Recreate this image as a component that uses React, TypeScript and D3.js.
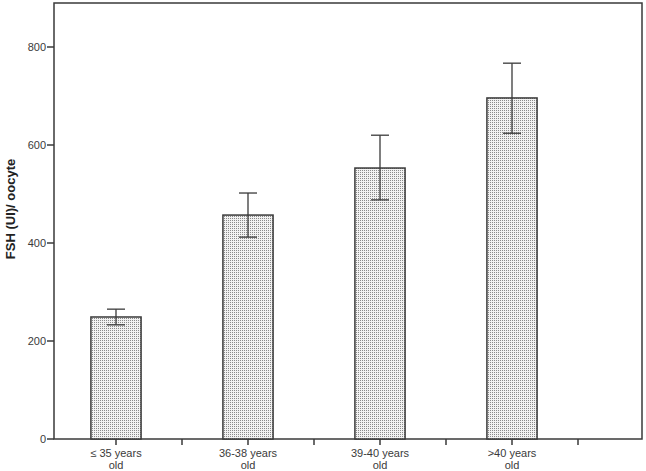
import * as d3 from "d3";
import { useEffect, useRef } from "react";

const categories = ["≤ 35 years|old", "36-38 years|old", "39-40 years|old", ">40 years|old"];
const means = [249, 457, 553, 696];
const errLow = [233, 412, 488, 624];
const errHigh = [265, 502, 620, 767];
const yTicks = [0, 200, 400, 600, 800];
const yLabel = "FSH (UI)/ oocyte";

export default function App() {
  const ref = useRef<SVGSVGElement | null>(null);

  useEffect(() => {
    if (!ref.current) return;
    const width = 646;
    const height = 471;
    const left = 54;
    const right = 642;
    const top = 3;
    const bottom = 439;
    const ink = "#3a3a3a";
    const font = "'Liberation Sans', Arial, sans-serif";

    const svg = d3.select(ref.current);
    svg.selectAll("*").remove();

    // dotted fill like SPSS
    const pat = svg
      .append("defs")
      .append("pattern")
      .attr("id", "dots")
      .attr("width", 2)
      .attr("height", 2)
      .attr("patternUnits", "userSpaceOnUse");
    pat.append("rect").attr("width", 2).attr("height", 2).attr("fill", "#f2f2f2");
    pat.append("rect").attr("width", 1).attr("height", 1).attr("fill", "#8a8a8a");

    const x = d3
      .scaleBand()
      .domain(categories)
      .range([50, 578])
      .paddingInner(0.62)
      .paddingOuter(0.31);

    const y = d3.scaleLinear().domain([0, 800]).range([bottom, bottom - 392]);

    // frame
    svg
      .append("rect")
      .attr("x", left)
      .attr("y", top)
      .attr("width", right - left)
      .attr("height", bottom - top)
      .attr("fill", "none")
      .attr("stroke", ink)
      .attr("stroke-width", 1.5);

    // bars
    svg
      .append("g")
      .selectAll("rect")
      .data(means)
      .join("rect")
      .attr("x", (_, i) => x(categories[i])!)
      .attr("y", (d) => y(d))
      .attr("width", x.bandwidth())
      .attr("height", (d) => y(0) - y(d))
      .attr("fill", "url(#dots)")
      .attr("stroke", ink)
      .attr("stroke-width", 1.5);

    // error bars
    const eb = svg.append("g").attr("stroke", ink).attr("stroke-width", 1.3);
    categories.forEach((c, i) => {
      const cx = x(c)! + x.bandwidth() / 2;
      eb.append("line").attr("x1", cx).attr("x2", cx).attr("y1", y(errLow[i])).attr("y2", y(errHigh[i]));
      [errLow[i], errHigh[i]].forEach((v) => {
        eb.append("line").attr("x1", cx - 9).attr("x2", cx + 9).attr("y1", y(v)).attr("y2", y(v));
      });
    });

    // y axis
    const ya = svg.append("g").attr("font-family", font).attr("font-size", 11).attr("fill", ink);
    yTicks.forEach((t) => {
      ya.append("line")
        .attr("x1", left - 7)
        .attr("x2", left)
        .attr("y1", y(t))
        .attr("y2", y(t))
        .attr("stroke", ink)
        .attr("stroke-width", 1.5);
      ya.append("text")
        .attr("x", left - 8)
        .attr("y", y(t))
        .attr("dy", "0.35em")
        .attr("text-anchor", "end")
        .text(t);
    });

    // x axis ticks: centers and band boundaries
    const xa = svg.append("g").attr("stroke", ink).attr("stroke-width", 1.5);
    categories.forEach((c) => {
      const cx = x(c)! + x.bandwidth() / 2;
      const edge = x(c)! + x.bandwidth() + (x.step() - x.bandwidth()) / 2;
      [cx, edge].forEach((px) => {
        xa.append("line").attr("x1", px).attr("x2", px).attr("y1", bottom).attr("y2", bottom + 6);
      });
    });

    const xl = svg
      .append("g")
      .attr("font-family", font)
      .attr("font-size", 11)
      .attr("fill", ink)
      .attr("text-anchor", "middle");
    categories.forEach((c) => {
      const cx = x(c)! + x.bandwidth() / 2;
      c.split("|").forEach((line, j) => {
        xl.append("text")
          .attr("x", cx)
          .attr("y", 457 + j * 12)
          .text(line);
      });
    });

    svg
      .append("text")
      .attr("transform", `translate(15,${(top + bottom) / 2 - 12}) rotate(-90)`)
      .attr("text-anchor", "middle")
      .attr("font-family", font)
      .attr("font-weight", "bold")
      .attr("font-size", 13)
      .attr("fill", "#222")
      .text(yLabel);

    svg.attr("width", width).attr("height", height);
  }, []);

  return (
    <svg
      ref={ref}
      width={646}
      height={471}
      style={{ position: "absolute", left: 0, top: 0, background: "#fff" }}
    ></svg>
  );
}
